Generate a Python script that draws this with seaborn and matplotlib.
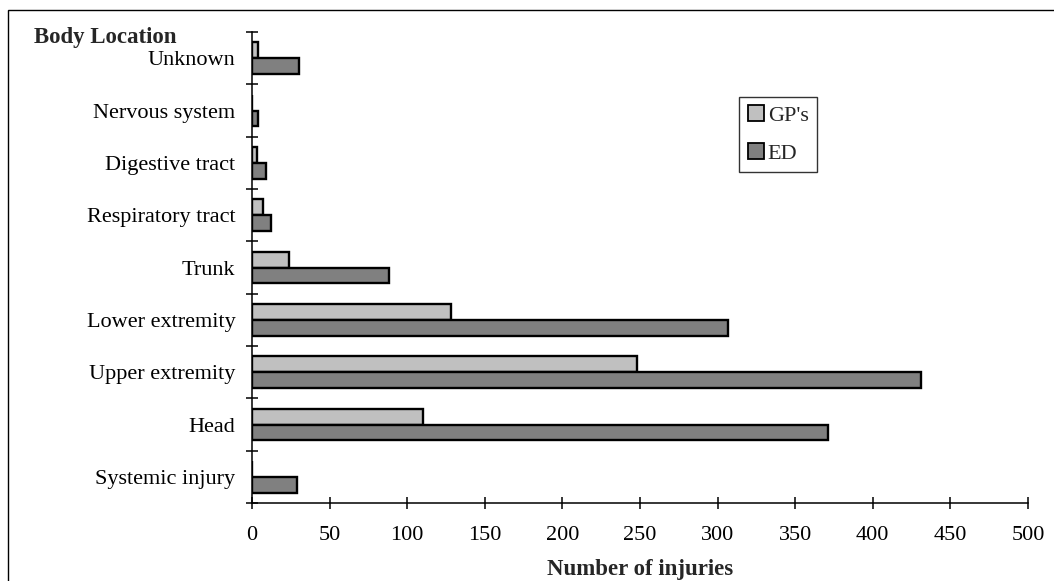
import matplotlib
matplotlib.use("Agg")
import matplotlib.pyplot as plt
from matplotlib.patches import Rectangle
from matplotlib.ticker import FixedLocator
import pandas as pd
import seaborn as sns

# Body locations, listed top to bottom
locations = ["Unknown", "Nervous system", "Digestive tract", "Respiratory tract",
             "Trunk", "Lower extremity", "Upper extremity", "Head", "Systemic injury"]
gp_counts = [4, 0, 3, 7, 24, 128, 248, 110, 0]
ed_counts = [30, 4, 9, 12, 88, 307, 431, 371, 29]
series = ["GP's", "ED"]
x_ticks = [0, 50, 100, 150, 200, 250, 300, 350, 400, 450, 500]

df = pd.DataFrame({
    "location": locations * 2,
    "count": gp_counts + ed_counts,
    "source": [series[0]] * len(locations) + [series[1]] * len(locations),
})

sns.set_theme(style="white")
plt.rcParams["font.family"] = ["Liberation Serif", "DejaVu Serif"]

fig = plt.figure(figsize=(10.54, 5.81), dpi=100)
W, H = 1054, 581
ax_left, ax_right, ax_top, ax_bottom = 252, 1028, 32, 503
ax = fig.add_axes([ax_left / W, 1 - ax_bottom / H,
                   (ax_right - ax_left) / W, (ax_bottom - ax_top) / H])

sns.barplot(data=df, y="location", x="count", hue="source", order=locations,
            hue_order=series, palette=["#C0C0C0", "#808080"], orient="h",
            width=0.6, edgecolor="black", linewidth=1.7, saturation=1,
            ax=ax)

ax.set_xlim(0, 500)
ax.set_ylim(len(locations) - 0.5, -0.5)
ax.set_xticks(x_ticks)
ax.set_xticklabels([str(v) for v in x_ticks])

# Category labels centred, tick marks on the category boundaries
ax.set_yticks(range(len(locations)))
ax.set_yticklabels(locations)
ax.yaxis.set_minor_locator(FixedLocator([i - 0.5 for i in range(len(locations) + 1)]))
ax.tick_params(axis="y", which="major", length=0, pad=12, labelsize=16, colors="black")
ax.tick_params(axis="y", which="minor", length=9, width=1.1, direction="inout",
               color="black", left=True)
ax.tick_params(axis="x", which="major", length=9, width=1.1, direction="inout",
               pad=12, labelsize=16, colors="black", bottom=True)

for side in ["top", "right"]:
    ax.spines[side].set_visible(False)
for side in ["left", "bottom"]:
    ax.spines[side].set_color("black")
    ax.spines[side].set_linewidth(1.1)

ax.set_ylabel("")
ax.set_xlabel("Number of injuries", fontsize=16.5, fontweight="bold", labelpad=10)

fig.text(34 / W, 1 - 37 / H, "Body Location", fontsize=16.5, fontweight="bold",
         ha="left", va="center")

def ax_frac(px, py):
    return ((px - ax_left) / (ax_right - ax_left),
            1 - (py - ax_top) / (ax_bottom - ax_top))

leg = ax.legend(loc="lower right", bbox_to_anchor=ax_frac(817, 172),
                frameon=True, fancybox=False, edgecolor="black", fontsize=16,
                handlelength=0.75, handleheight=0.75, handletextpad=0.15,
                labelspacing=0.75, borderpad=0.38, borderaxespad=0)
leg.get_frame().set_linewidth(1.0)
for h in leg.legend_handles:
    h.set_edgecolor("black")
    h.set_linewidth(1.3)

# Outer chart frame
fig.patches.append(Rectangle((8 / W, -0.1), 1.2, 1 - 10 / H + 0.1,
                             transform=fig.transFigure, fill=False,
                             edgecolor="black", linewidth=1.0))

fig.savefig("out.png", dpi=100)
